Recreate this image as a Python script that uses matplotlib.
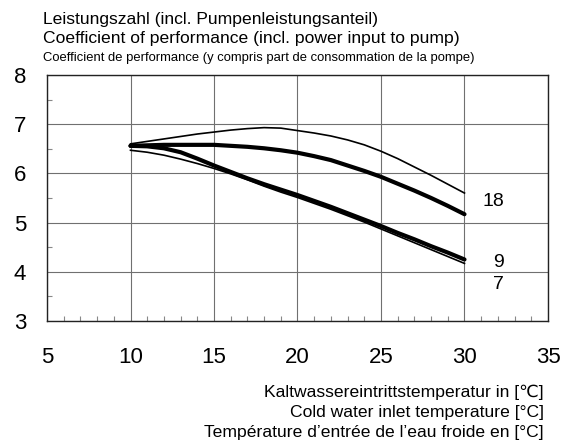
import matplotlib.pyplot as plt
from matplotlib.ticker import MultipleLocator

plt.rcParams['font.family'] = ['Liberation Sans', 'DejaVu Sans']

# cold water inlet temperature [°C]
temp = [10, 11, 12, 13, 14, 15, 16, 17, 18, 19, 20,
        21, 22, 23, 24, 25, 26, 27, 28, 29, 30]

# COP curves
cop_18_thin = [6.60, 6.65, 6.70, 6.75, 6.80, 6.84, 6.88, 6.91, 6.93, 6.92, 6.87,
               6.82, 6.76, 6.68, 6.58, 6.45, 6.30, 6.13, 5.96, 5.78, 5.60]
cop_18 = [6.56, 6.57, 6.58, 6.58, 6.58, 6.58, 6.56, 6.54, 6.51, 6.47, 6.42,
          6.35, 6.27, 6.16, 6.05, 5.93, 5.79, 5.65, 5.50, 5.34, 5.17]
cop_9 = [6.56, 6.55, 6.51, 6.43, 6.30, 6.16, 6.03, 5.90, 5.78, 5.67, 5.56,
         5.44, 5.32, 5.19, 5.06, 4.93, 4.79, 4.66, 4.52, 4.39, 4.25]
cop_7 = [6.47, 6.43, 6.37, 6.29, 6.20, 6.10, 5.99, 5.87, 5.74, 5.62, 5.51,
         5.39, 5.27, 5.14, 5.01, 4.87, 4.73, 4.59, 4.45, 4.31, 4.17]

curve_labels = ['18', '9', '7']
label_x = [31.7, 32.05, 32.05]
label_y = [5.42, 4.19, 3.75]

fig = plt.figure(figsize=(5.61, 4.45), dpi=100)
ax = fig.add_axes([0.0838, 0.2787, 0.8930, 0.5528])

ax.plot(temp, cop_18_thin, color='black', lw=1.2)
ax.plot(temp, cop_18, color='black', lw=3.0, solid_capstyle='round')
ax.plot(temp, cop_9, color='black', lw=3.0, solid_capstyle='round')
ax.plot(temp, cop_7, color='black', lw=1.2)

for lab, lx, ly in zip(curve_labels, label_x, label_y):
    ax.text(lx, ly, lab, fontsize=14, ha='center', va='center')

ax.set_xlim(5, 35)
ax.set_ylim(3, 8)
ax.xaxis.set_major_locator(MultipleLocator(5))
ax.xaxis.set_minor_locator(MultipleLocator(1))
ax.yaxis.set_major_locator(MultipleLocator(1))
ax.yaxis.set_minor_locator(MultipleLocator(0.5))
ax.grid(which='major', color='#707070', lw=0.8)
ax.tick_params(which='major', length=0, labelsize=16)
ax.tick_params(axis='x', which='major', pad=19)
ax.tick_params(axis='y', which='major', pad=15)
ax.tick_params(which='minor', direction='in', length=3.5, color='#888888', width=0.8)
for s in ax.spines.values():
    s.set_color('#222222')
    s.set_linewidth(1.0)

fig.text(0.076, 0.946, 'Leistungszahl (incl. Pumpenleistungsanteil)', fontsize=12.6, va='baseline')
fig.text(0.076, 0.903, 'Coefficient of performance (incl. power input to pump)', fontsize=12.6, va='baseline')
fig.text(0.076, 0.862, 'Coefficient de performance (y compris part de consommation de la pompe)',
         fontsize=9.4, va='baseline')

fig.text(0.969, 0.1085, 'Kaltwassereintrittstemperatur in [℃]', fontsize=12.6, ha='right', va='baseline')
fig.text(0.969, 0.0622, 'Cold water inlet temperature [°C]', fontsize=12.6, ha='right', va='baseline')
fig.text(0.969, 0.0187, 'Température d’entrée de l’eau froide en [°C]', fontsize=12.6, ha='right', va='baseline')

fig.savefig('out.png', dpi=100)
